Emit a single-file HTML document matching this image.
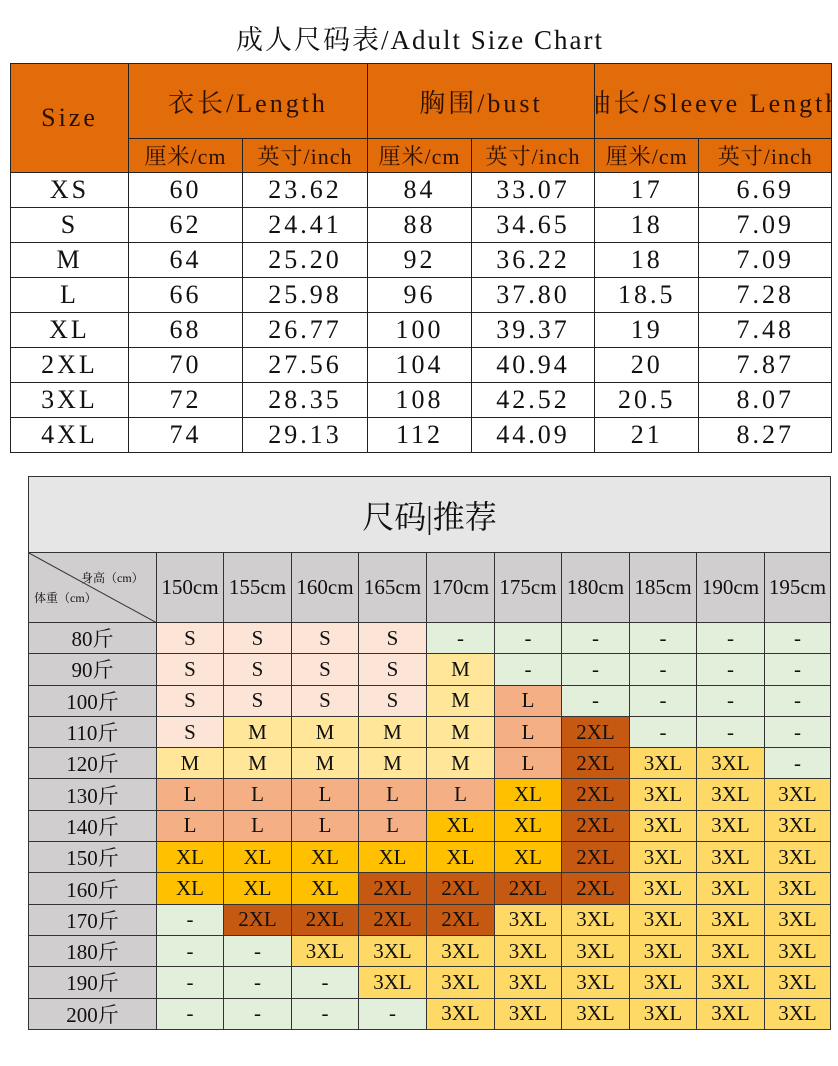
<!DOCTYPE html>
<html><head><meta charset="utf-8"><style>
body{margin:0;width:838px;height:1066px;background:#fff;position:relative;overflow:hidden;font-family:"Liberation Serif","Noto Serif CJK SC",serif;color:#111}
.t{position:absolute;left:10px;top:63px;border-collapse:collapse;table-layout:fixed}
.t td{border:1px solid #222;text-align:center;padding:0;overflow:hidden;white-space:nowrap;font-family:"Liberation Serif","Noto Serif CJK SC",serif;font-size:26px;letter-spacing:3px}
.t .h{background:#e26b0a;color:#2a1000}
.t .sub{font-size:22px;letter-spacing:1px}
.title{position:absolute;left:10px;width:820px;top:18px;text-align:center;font-family:"Liberation Serif","Noto Serif CJK SC",serif;font-size:27px;letter-spacing:2px}
.b{position:absolute;left:28px;top:476px;border-collapse:collapse;table-layout:fixed}
.b td{border:1px solid #333;text-align:center;padding:0;white-space:nowrap;font-size:21px;height:30.3px;overflow:hidden}
.g{background:#d0cece}
.s{background:#fce4d6}.n{background:#e2efda}.m{background:#ffe699}.l{background:#f4b084}.x{background:#ffc000}.z{background:#c65911}.y{background:#ffd966}
</style></head><body>
<div class="title">成人尺码表/Adult Size Chart</div>
<table class="t">
<colgroup><col style="width:118px"><col style="width:114px"><col style="width:125px"><col style="width:104px"><col style="width:123px"><col style="width:104px"><col style="width:132px"></colgroup>
<tr style="height:75px"><td class="h" rowspan="2">Size</td><td class="h" colspan="2">衣长/Length</td><td class="h" colspan="2">胸围/bust</td><td class="h" colspan="2"><div style="width:236px;overflow:hidden;display:flex;justify-content:center"><span style="flex:none">袖长/Sleeve Length</span></div></td></tr>
<tr style="height:34px"><td class="h sub">厘米/cm</td><td class="h sub">英寸/inch</td><td class="h sub">厘米/cm</td><td class="h sub">英寸/inch</td><td class="h sub">厘米/cm</td><td class="h sub">英寸/inch</td></tr>
<tr style="height:35px"><td>XS</td><td>60</td><td>23.62</td><td>84</td><td>33.07</td><td>17</td><td>6.69</td></tr>
<tr style="height:35px"><td>S</td><td>62</td><td>24.41</td><td>88</td><td>34.65</td><td>18</td><td>7.09</td></tr>
<tr style="height:35px"><td>M</td><td>64</td><td>25.20</td><td>92</td><td>36.22</td><td>18</td><td>7.09</td></tr>
<tr style="height:35px"><td>L</td><td>66</td><td>25.98</td><td>96</td><td>37.80</td><td>18.5</td><td>7.28</td></tr>
<tr style="height:35px"><td>XL</td><td>68</td><td>26.77</td><td>100</td><td>39.37</td><td>19</td><td>7.48</td></tr>
<tr style="height:35px"><td>2XL</td><td>70</td><td>27.56</td><td>104</td><td>40.94</td><td>20</td><td>7.87</td></tr>
<tr style="height:35px"><td>3XL</td><td>72</td><td>28.35</td><td>108</td><td>42.52</td><td>20.5</td><td>8.07</td></tr>
<tr style="height:35px"><td>4XL</td><td>74</td><td>29.13</td><td>112</td><td>44.09</td><td>21</td><td>8.27</td></tr>
</table>

<table class="b">
<colgroup><col style="width:128px"><col style="width:67px"><col style="width:68px"><col style="width:67px"><col style="width:68px"><col style="width:68px"><col style="width:67px"><col style="width:68px"><col style="width:67px"><col style="width:68px"><col style="width:66px"></colgroup>
<tr><td colspan="11" style="background:#e7e6e6;height:75px;font-size:32px;font-family:'Liberation Serif','Noto Serif CJK SC',serif">尺码|推荐</td></tr>
<tr><td class="g" style="height:69px;position:relative;overflow:hidden"><svg width="128" height="70" style="position:absolute;left:0;top:0"><line x1="0" y1="0" x2="128" y2="70" stroke="#333" stroke-width="1"/></svg><span style="position:absolute;left:52px;top:16px;font-size:12px">身高（cm）</span><span style="position:absolute;left:5px;top:36px;font-size:12px">体重（cm）</span></td>
<td class="g">150cm</td><td class="g">155cm</td><td class="g">160cm</td><td class="g">165cm</td><td class="g">170cm</td><td class="g">175cm</td><td class="g">180cm</td><td class="g">185cm</td><td class="g">190cm</td><td class="g">195cm</td></tr>
<tr><td class="g">80斤</td><td class="s">S</td><td class="s">S</td><td class="s">S</td><td class="s">S</td><td class="n">-</td><td class="n">-</td><td class="n">-</td><td class="n">-</td><td class="n">-</td><td class="n">-</td></tr>
<tr><td class="g">90斤</td><td class="s">S</td><td class="s">S</td><td class="s">S</td><td class="s">S</td><td class="m">M</td><td class="n">-</td><td class="n">-</td><td class="n">-</td><td class="n">-</td><td class="n">-</td></tr>
<tr><td class="g">100斤</td><td class="s">S</td><td class="s">S</td><td class="s">S</td><td class="s">S</td><td class="m">M</td><td class="l">L</td><td class="n">-</td><td class="n">-</td><td class="n">-</td><td class="n">-</td></tr>
<tr><td class="g">110斤</td><td class="s">S</td><td class="m">M</td><td class="m">M</td><td class="m">M</td><td class="m">M</td><td class="l">L</td><td class="z">2XL</td><td class="n">-</td><td class="n">-</td><td class="n">-</td></tr>
<tr><td class="g">120斤</td><td class="m">M</td><td class="m">M</td><td class="m">M</td><td class="m">M</td><td class="m">M</td><td class="l">L</td><td class="z">2XL</td><td class="y">3XL</td><td class="y">3XL</td><td class="n">-</td></tr>
<tr><td class="g">130斤</td><td class="l">L</td><td class="l">L</td><td class="l">L</td><td class="l">L</td><td class="l">L</td><td class="x">XL</td><td class="z">2XL</td><td class="y">3XL</td><td class="y">3XL</td><td class="y">3XL</td></tr>
<tr><td class="g">140斤</td><td class="l">L</td><td class="l">L</td><td class="l">L</td><td class="l">L</td><td class="x">XL</td><td class="x">XL</td><td class="z">2XL</td><td class="y">3XL</td><td class="y">3XL</td><td class="y">3XL</td></tr>
<tr><td class="g">150斤</td><td class="x">XL</td><td class="x">XL</td><td class="x">XL</td><td class="x">XL</td><td class="x">XL</td><td class="x">XL</td><td class="z">2XL</td><td class="y">3XL</td><td class="y">3XL</td><td class="y">3XL</td></tr>
<tr><td class="g">160斤</td><td class="x">XL</td><td class="x">XL</td><td class="x">XL</td><td class="z">2XL</td><td class="z">2XL</td><td class="z">2XL</td><td class="z">2XL</td><td class="y">3XL</td><td class="y">3XL</td><td class="y">3XL</td></tr>
<tr><td class="g">170斤</td><td class="n">-</td><td class="z">2XL</td><td class="z">2XL</td><td class="z">2XL</td><td class="z">2XL</td><td class="y">3XL</td><td class="y">3XL</td><td class="y">3XL</td><td class="y">3XL</td><td class="y">3XL</td></tr>
<tr><td class="g">180斤</td><td class="n">-</td><td class="n">-</td><td class="y">3XL</td><td class="y">3XL</td><td class="y">3XL</td><td class="y">3XL</td><td class="y">3XL</td><td class="y">3XL</td><td class="y">3XL</td><td class="y">3XL</td></tr>
<tr><td class="g">190斤</td><td class="n">-</td><td class="n">-</td><td class="n">-</td><td class="y">3XL</td><td class="y">3XL</td><td class="y">3XL</td><td class="y">3XL</td><td class="y">3XL</td><td class="y">3XL</td><td class="y">3XL</td></tr>
<tr><td class="g">200斤</td><td class="n">-</td><td class="n">-</td><td class="n">-</td><td class="n">-</td><td class="y">3XL</td><td class="y">3XL</td><td class="y">3XL</td><td class="y">3XL</td><td class="y">3XL</td><td class="y">3XL</td></tr>
</table>
</body></html>
